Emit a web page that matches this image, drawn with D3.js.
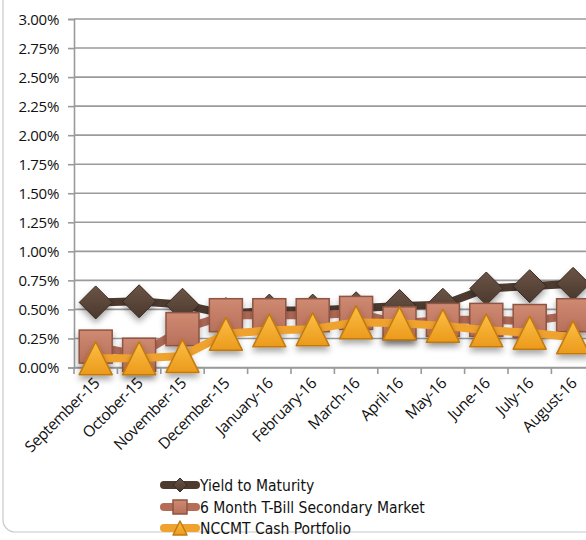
<!DOCTYPE html>
<html><head><meta charset="utf-8">
<script src="https://cdn.jsdelivr.net/npm/d3@7"></script>
<style>body{margin:0;background:#fff;}svg{display:block;}</style>
</head><body>
<svg id="c" width="586" height="540"></svg>
<script>
const months = ["September-15","October-15","November-15","December-15","January-16","February-16","March-16","April-16","May-16","June-16","July-16","August-16"];
const yieldToMaturity = [0.56,0.57,0.54,0.46,0.49,0.49,0.51,0.53,0.54,0.68,0.70,0.72];
const tBill6Month = [0.18,0.11,0.33,0.45,0.45,0.45,0.47,0.38,0.41,0.41,0.40,0.45];
const nccmtCash = [0.08,0.08,0.10,0.29,0.32,0.33,0.39,0.38,0.36,0.32,0.30,0.26];
const yTicks = [0,0.25,0.5,0.75,1,1.25,1.5,1.75,2,2.25,2.5,2.75,3];
const seriesNames = ["Yield to Maturity","6 Month T-Bill Secondary Market","NCCMT Cash Portfolio"];

const svg = d3.select("#c");
const defs = svg.append("defs");
const f = defs.append("filter").attr("id","sh").attr("x","-50%").attr("y","-50%").attr("width","200%").attr("height","200%");
f.append("feDropShadow").attr("dx",0).attr("dy",4).attr("stdDeviation",3).attr("flood-color","#000").attr("flood-opacity",0.35);
function grad(id, c1, c2){
  const g = defs.append("linearGradient").attr("id",id).attr("x1",0).attr("y1",0).attr("x2",0).attr("y2",1);
  g.append("stop").attr("offset","0%").attr("stop-color",c1);
  g.append("stop").attr("offset","100%").attr("stop-color",c2);
}
grad("gD","#6b5446","#4a382d");
grad("gS","#cf8a72","#b8705a");
grad("gT","#fcbf45","#eb9a1c");

// frame
svg.append("rect").attr("x",3).attr("y",-20).attr("width",640).attr("height",552).attr("rx",12)
  .attr("fill","none").attr("stroke","#c8c8c8").attr("stroke-width",1.2);

const x = d3.scaleBand().domain(months).range([74, 594.8]).padding(0);
const y = d3.scaleLinear().domain([0,3]).range([367.5, 19]);
const cx = d => x(d) + x.bandwidth()/2;
const FONT = "'Open Sans', Lato, sans-serif";

// grid
svg.append("g").selectAll("line").data(yTicks).join("line")
  .attr("x1",74).attr("x2",600).attr("y1",d=>y(d)).attr("y2",d=>y(d))
  .attr("stroke","#9a9a9a").attr("stroke-width",1.6);

// y axis
const ya = svg.append("g").attr("transform","translate(74,0)")
  .call(d3.axisLeft(y).tickValues(yTicks).tickSize(6).tickPadding(9).tickFormat(d=>d3.format(".2f")(d)+"%"));
ya.select(".domain").attr("stroke","#9a9a9a").attr("stroke-width",1.6);
ya.selectAll(".tick line").attr("stroke","#9a9a9a").attr("stroke-width",1.6);
ya.selectAll("text").attr("font-family",FONT).attr("font-size",15).attr("font-weight",500).attr("letter-spacing","-0.3px").attr("fill","#111").attr("dy","0.35em");

// x axis
const xa = svg.append("g").attr("transform","translate(0,367.5)")
  .call(d3.axisBottom(x).tickSize(0).tickFormat(d=>d));
xa.select(".domain").attr("stroke","#9a9a9a").attr("stroke-width",1.6);
xa.selectAll(".tick text").attr("font-family",FONT).attr("font-size",15.5).attr("font-weight",500).attr("letter-spacing","-0.4px").attr("fill","#111")
  .attr("text-anchor","end").attr("transform","translate(-3,9) rotate(-45)").attr("dy","0.7em").attr("y",0).attr("x",0);
// x tick marks at band edges
svg.append("g").selectAll("line").data(months).join("line")
  .attr("x1",d=>x(d)).attr("x2",d=>x(d)).attr("y1",367.5).attr("y2",374)
  .attr("stroke","#9a9a9a").attr("stroke-width",1.6);

const line = d3.line().x((d,i)=>cx(months[i])).y(d=>y(d));

// series lines + markers
const S = 33;
function diamond(g, px, py, s){ g.append("path").attr("d",`M${px},${py-s/2}L${px+s/2},${py}L${px},${py+s/2}L${px-s/2},${py}Z`).attr("fill","url(#gD)").attr("stroke","#3a2b22").attr("stroke-width",1); }
function square(g, px, py, s){ g.append("rect").attr("x",px-s/2).attr("y",py-s/2).attr("width",s).attr("height",s).attr("fill","url(#gS)").attr("stroke","#8f5443").attr("stroke-width",1.5); }
function triangle(g, px, py, s){ g.append("path").attr("d",`M${px},${py-s/2}L${px+s/2},${py+s/2}L${px-s/2},${py+s/2}Z`).attr("fill","url(#gT)").attr("stroke","#c27a10").attr("stroke-width",1.5).attr("stroke-linejoin","round"); }

const series = [
  {v:yieldToMaturity, color:"#4e3b30", w:8, m:diamond},
  {v:tBill6Month, color:"#b66d58", w:8, m:square},
  {v:nccmtCash, color:"#f0a22e", w:8, m:triangle}
];
series.forEach(s=>{
  svg.append("path").datum(s.v).attr("d",line).attr("fill","none").attr("stroke",s.color).attr("stroke-width",s.w).attr("stroke-linejoin","round");
  const g = svg.append("g").attr("filter","url(#sh)");
  s.v.forEach((v,i)=> s.m(g, cx(months[i]), y(v), S));
});

// legend
const ly = [485, 507, 528];
series.forEach((s,i)=>{
  svg.append("line").attr("x1",164).attr("x2",196).attr("y1",ly[i]).attr("y2",ly[i]).attr("stroke",s.color).attr("stroke-width",8).attr("stroke-linecap","round");
  const g = svg.append("g");
  s.m(g, 180, ly[i], 14);
  svg.append("text").attr("x",200).attr("y",ly[i]).attr("dy","0.36em").attr("font-family","'DejaVu Sans Condensed', 'DejaVu Sans', sans-serif").attr("font-size",15.5).attr("fill","#111").text(seriesNames[i]);
});
</script>
</body></html>
